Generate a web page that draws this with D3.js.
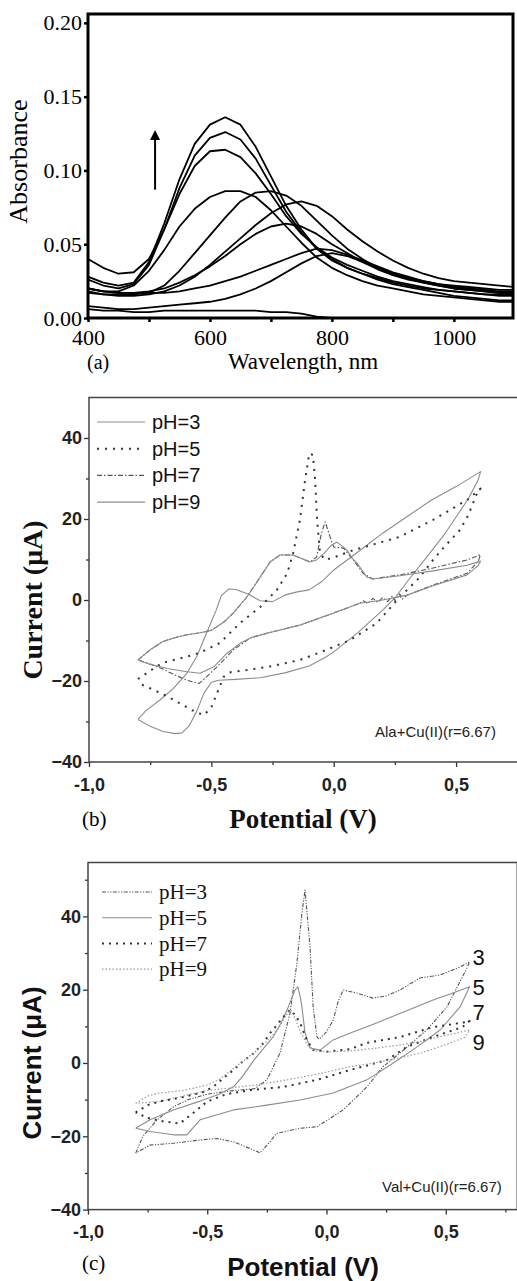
<!DOCTYPE html>
<meta charset="utf-8">
<script src="https://d3js.org/d3.v7.min.js"></script>
<style>
  body { margin: 0; background: #fff; }
  .serif { font-family: "Liberation Serif", "Times New Roman", serif; }
  .sans { font-family: "Liberation Sans", Arial, sans-serif; }
</style>
<div id="chart"></div>

<script>
// ---------- (a) absorbance spectra ----------
const wavelengths = [400,425,450,475,500,525,550,575,600,625,650,675,700,725,750,775,800,825,850,875,900,925,950,975,1000,1025,1050,1075,1100];
const spec1  = [0.028,0.024,0.022,0.024,0.038,0.064,0.094,0.118,0.131,0.136,0.131,0.116,0.096,0.076,0.060,0.047,0.039,0.034,0.030,0.026,0.023,0.021,0.019,0.017,0.015,0.014,0.013,0.012,0.012];
const spec2  = [0.026,0.022,0.020,0.023,0.036,0.060,0.088,0.110,0.122,0.126,0.121,0.108,0.090,0.072,0.058,0.047,0.040,0.034,0.030,0.027,0.024,0.022,0.020,0.019,0.018,0.017,0.016,0.016,0.016];
const spec3  = [0.040,0.034,0.030,0.031,0.040,0.060,0.084,0.103,0.113,0.114,0.109,0.098,0.084,0.069,0.057,0.048,0.041,0.036,0.032,0.028,0.025,0.023,0.021,0.019,0.018,0.017,0.016,0.015,0.015];
const spec4  = [0.020,0.018,0.018,0.022,0.032,0.046,0.062,0.074,0.082,0.086,0.086,0.082,0.073,0.062,0.051,0.041,0.034,0.029,0.025,0.022,0.020,0.018,0.016,0.015,0.014,0.013,0.012,0.011,0.011];
const spec5  = [0.018,0.016,0.016,0.016,0.017,0.022,0.032,0.044,0.056,0.068,0.079,0.085,0.086,0.083,0.076,0.066,0.056,0.047,0.040,0.034,0.030,0.027,0.025,0.023,0.022,0.021,0.020,0.019,0.019];
const spec6  = [0.017,0.016,0.015,0.015,0.016,0.018,0.022,0.028,0.036,0.045,0.054,0.063,0.071,0.077,0.079,0.076,0.069,0.060,0.052,0.045,0.039,0.034,0.030,0.027,0.025,0.024,0.023,0.022,0.021];
const spec7  = [0.020,0.018,0.017,0.017,0.018,0.020,0.024,0.029,0.035,0.042,0.050,0.057,0.062,0.064,0.062,0.057,0.050,0.044,0.038,0.033,0.029,0.026,0.024,0.022,0.020,0.019,0.018,0.017,0.017];
const spec8  = [0.020,0.018,0.017,0.017,0.017,0.017,0.018,0.020,0.022,0.025,0.028,0.032,0.036,0.040,0.044,0.047,0.046,0.043,0.039,0.035,0.031,0.028,0.025,0.023,0.021,0.020,0.019,0.018,0.018];
const spec9  = [0.008,0.007,0.006,0.006,0.007,0.008,0.009,0.010,0.011,0.013,0.016,0.020,0.025,0.031,0.037,0.042,0.044,0.042,0.038,0.034,0.030,0.027,0.024,0.022,0.020,0.019,0.018,0.017,0.017];
const spec10 = [0.006,0.005,0.005,0.004,0.004,0.005,0.005,0.005,0.005,0.005,0.005,0.005,0.004,0.004,0.003,0.001,0,0,0,0,0,0,0,0,0,0,0,0,0];
const spectra = [spec1, spec2, spec3, spec4, spec5, spec6, spec7, spec8, spec9, spec10];
const absTicks = [0, 0.05, 0.10, 0.15, 0.20];
const wlTicks = [400, 500, 600, 700, 800, 900, 1000];
const wlLabels = [400, 600, 800, 1000];

// ---------- (b) Ala + Cu(II) voltammograms, [potential V, current uA] ----------
const alaPH3 = [[-0.80,-29.5],[-0.75,-31.2],[-0.70,-32.4],[-0.65,-33.0],[-0.62,-32.8],[-0.59,-31.0],[-0.56,-27.5],[-0.53,-23.0],[-0.50,-20.3],[-0.47,-19.8],[-0.40,-19.6],[-0.30,-19.2],[-0.20,-18.0],[-0.10,-16.3],[-0.03,-14.0],[0.00,-12.8],[0.10,-8.0],[0.20,-2.5],[0.25,0.5],[0.30,4.5],[0.38,10.6],[0.45,16.0],[0.50,20.5],[0.55,25.0],[0.59,29.6],[0.60,31.7],[0.50,28.0],[0.40,24.7],[0.30,20.6],[0.20,16.5],[0.10,11.9],[0.00,7.4],[-0.05,4.5],[-0.10,2.5],[-0.15,2.0],[-0.20,1.2],[-0.25,-0.4],[-0.30,-0.2],[-0.35,1.5],[-0.40,2.6],[-0.43,2.7],[-0.46,1.0],[-0.48,-2.5],[-0.52,-8.2],[-0.56,-14.0],[-0.60,-18.1],[-0.655,-21.8],[-0.71,-24.7],[-0.765,-27.2],[-0.80,-29.5]];
const alaPH5 = [[-0.80,-19.5],[-0.75,-17.5],[-0.70,-15.5],[-0.60,-14.0],[-0.546,-13.0],[-0.465,-10.6],[-0.383,-5.7],[-0.30,-1.7],[-0.232,2.5],[-0.19,6.6],[-0.166,11.5],[-0.138,19.8],[-0.117,29.6],[-0.10,36.2],[-0.085,35.8],[-0.076,29.6],[-0.068,19.8],[-0.056,11.5],[-0.035,9.9],[0.00,10.5],[0.08,12.3],[0.15,13.5],[0.27,15.6],[0.406,19.8],[0.545,24.7],[0.60,27.5],[0.586,26.4],[0.55,21.0],[0.516,17.3],[0.45,13.0],[0.406,9.9],[0.35,5.5],[0.27,0.7],[0.176,-5.7],[0.067,-9.9],[-0.05,-12.8],[-0.138,-14.8],[-0.25,-16.3],[-0.354,-17.3],[-0.42,-17.8],[-0.45,-19.0],[-0.47,-22.0],[-0.50,-26.5],[-0.53,-28.4],[-0.56,-27.8],[-0.60,-26.5],[-0.65,-24.8],[-0.70,-23.2],[-0.75,-21.8],[-0.80,-20.5]];
const alaPH7 = [[-0.80,-14.8],[-0.75,-12.3],[-0.70,-10.3],[-0.65,-9.3],[-0.60,-8.6],[-0.546,-8.1],[-0.50,-7.5],[-0.45,-5.5],[-0.41,-3.2],[-0.354,0.8],[-0.30,5.7],[-0.26,9.4],[-0.22,11.1],[-0.166,11.1],[-0.097,9.4],[-0.07,10.6],[-0.05,16.5],[-0.035,19.3],[-0.015,15.6],[0.00,13.1],[0.04,12.8],[0.08,9.9],[0.12,6.6],[0.16,5.2],[0.27,6.2],[0.406,7.9],[0.545,9.9],[0.60,11.2],[0.59,9.5],[0.545,6.6],[0.406,3.7],[0.30,1.2],[0.28,0.2],[0.27,1.5],[0.25,-0.2],[0.24,1.0],[0.22,-0.4],[0.20,0.6],[0.18,-0.6],[0.16,0.4],[0.14,-0.9],[0.12,-0.2],[0.107,-0.8],[0.00,-3.2],[-0.138,-6.2],[-0.273,-8.2],[-0.342,-9.4],[-0.41,-12.3],[-0.477,-16.5],[-0.534,-19.8],[-0.55,-20.6],[-0.60,-19.8],[-0.65,-18.5],[-0.70,-17.0],[-0.75,-15.8],[-0.80,-14.8]];
const alaPH9 = [[-0.80,-14.8],[-0.75,-12.3],[-0.70,-10.3],[-0.65,-9.3],[-0.60,-8.6],[-0.546,-8.1],[-0.50,-7.5],[-0.45,-5.5],[-0.41,-3.2],[-0.354,0.8],[-0.30,5.7],[-0.26,9.4],[-0.22,11.1],[-0.166,11.1],[-0.097,9.4],[-0.07,9.9],[-0.04,11.5],[-0.01,13.5],[0.013,14.3],[0.035,13.3],[0.054,12.3],[0.08,10.0],[0.095,9.1],[0.135,5.7],[0.16,5.2],[0.27,6.0],[0.406,7.2],[0.545,8.6],[0.60,9.6],[0.59,8.5],[0.545,6.2],[0.406,3.5],[0.30,1.2],[0.20,0.0],[0.107,-0.8],[0.00,-3.2],[-0.138,-6.2],[-0.273,-8.2],[-0.33,-9.1],[-0.383,-10.7],[-0.437,-13.2],[-0.49,-16.5],[-0.546,-18.1],[-0.60,-17.7],[-0.68,-16.9],[-0.75,-15.9],[-0.80,-14.8]];

// ---------- (c) Val + Cu(II) voltammograms ----------
const valPH3 = [[-0.80,-24.6],[-0.77,-20.0],[-0.71,-15.5],[-0.64,-11.9],[-0.58,-10.0],[-0.50,-8.5],[-0.40,-7.6],[-0.30,-7.0],[-0.25,-4.6],[-0.195,2.7],[-0.153,13.6],[-0.124,27.3],[-0.103,40.9],[-0.09,47.2],[-0.069,31.7],[-0.056,15.3],[-0.04,7.1],[-0.03,6.5],[0.00,8.5],[0.028,11.7],[0.05,17.0],[0.07,19.9],[0.127,19.1],[0.195,17.7],[0.25,18.3],[0.308,19.9],[0.392,23.2],[0.476,24.0],[0.56,26.2],[0.60,27.6],[0.589,25.9],[0.505,15.3],[0.42,9.0],[0.308,2.7],[0.237,-1.0],[0.17,-6.5],[0.07,-12.8],[-0.04,-17.4],[-0.111,-17.8],[-0.209,-19.2],[-0.25,-22.5],[-0.279,-24.5],[-0.307,-23.7],[-0.39,-21.5],[-0.46,-20.6],[-0.53,-21.0],[-0.642,-21.9],[-0.74,-22.4],[-0.80,-24.6]];
const valPH5 = [[-0.80,-17.8],[-0.74,-15.5],[-0.642,-12.8],[-0.53,-10.4],[-0.45,-8.5],[-0.39,-6.5],[-0.35,-3.5],[-0.31,0.3],[-0.27,3.5],[-0.224,7.1],[-0.19,11.0],[-0.16,15.3],[-0.132,19.9],[-0.12,20.8],[-0.11,18.0],[-0.103,15.3],[-0.09,8.2],[-0.069,4.1],[-0.027,3.5],[0.028,6.3],[0.10,8.2],[0.21,10.9],[0.31,13.6],[0.447,17.2],[0.53,19.1],[0.60,20.8],[0.56,15.3],[0.476,9.0],[0.38,4.4],[0.28,0.0],[0.17,-4.6],[0.028,-8.2],[-0.111,-10.1],[-0.25,-11.5],[-0.39,-12.8],[-0.53,-15.5],[-0.586,-19.6],[-0.642,-19.6],[-0.74,-18.7],[-0.80,-17.8]];
const valPH7 = [[-0.80,-13.5],[-0.75,-11.5],[-0.70,-10.5],[-0.60,-9.3],[-0.52,-8.0],[-0.475,-6.5],[-0.43,-4.0],[-0.39,-1.9],[-0.35,0.5],[-0.307,2.6],[-0.27,5.0],[-0.237,8.1],[-0.20,11.0],[-0.18,12.6],[-0.153,14.5],[-0.13,13.0],[-0.11,10.8],[-0.083,6.3],[-0.055,3.5],[0.00,3.1],[0.10,3.8],[0.17,5.5],[0.31,7.1],[0.447,9.8],[0.59,11.2],[0.60,11.5],[0.57,9.8],[0.447,7.1],[0.337,4.4],[0.253,0.8],[0.10,-1.9],[-0.04,-4.6],[-0.18,-6.5],[-0.32,-7.4],[-0.42,-8.5],[-0.50,-10.5],[-0.56,-13.7],[-0.615,-16.5],[-0.68,-16.0],[-0.75,-15.0],[-0.80,-13.5]];
const valPH9 = [[-0.80,-11.0],[-0.75,-9.0],[-0.70,-8.2],[-0.60,-7.5],[-0.50,-6.0],[-0.45,-4.5],[-0.40,-2.0],[-0.35,0.5],[-0.30,3.0],[-0.25,6.0],[-0.20,9.5],[-0.17,13.0],[-0.15,14.5],[-0.13,12.0],[-0.11,8.5],[-0.08,5.0],[-0.05,3.3],[0.00,3.0],[0.10,3.3],[0.20,4.0],[0.30,4.8],[0.40,6.0],[0.50,7.5],[0.60,9.0],[0.58,7.0],[0.50,5.0],[0.40,2.8],[0.30,1.3],[0.20,0.0],[0.10,-1.0],[0.00,-2.5],[-0.10,-3.8],[-0.20,-5.0],[-0.30,-6.0],[-0.40,-6.8],[-0.50,-7.5],[-0.60,-9.0],[-0.70,-10.5],[-0.80,-11.0]];

const phLabels = ["pH=3", "pH=5", "pH=7", "pH=9"];
const potTicks = [-1.0, -0.5, 0.0, 0.5];
const potMinor = [-0.75, -0.25, 0.25, 0.75];
const curTicks = [-40, -20, 0, 20, 40];
const curMinorB = [-30, -10, 10, 30];
const curMinorC = [-30, -10, 10, 30, 50];
const endLabels = ["3", "5", "7", "9"];
const endLabelValues = [28.9, 20.7, 13.9, 5.7];

const svg = d3.select("#chart")
  .append("svg")
  .attr("width", 517)
  .attr("height", 1281);

// ================= panel (a) =================
const xA = d3.scaleLinear().domain([400, 1097]).range([88, 513]);
const yA = d3.scaleLinear().domain([0, 0.206]).range([318, 14]);
const gA = svg.append("g");

gA.append("clipPath").attr("id", "clipA")
  .append("rect")
  .attr("x", xA.range()[0]).attr("y", yA.range()[1])
  .attr("width", xA.range()[1] - xA.range()[0])
  .attr("height", yA.range()[0] - yA.range()[1]);

const lineA = d3.line()
  .x((d, i) => xA(wavelengths[i]))
  .y(d => yA(d));

gA.append("g").attr("clip-path", "url(#clipA)")
  .selectAll("path")
  .data(spectra)
  .join("path")
  .attr("d", lineA)
  .attr("fill", "none")
  .attr("stroke", "#000")
  .attr("stroke-width", 1.8)
  .attr("stroke-linejoin", "round");

// arrow
svg.append("defs").append("marker")
  .attr("id", "arrowHead")
  .attr("viewBox", "0 0 10 10")
  .attr("refX", 5).attr("refY", 5)
  .attr("markerWidth", 5).attr("markerHeight", 6)
  .attr("orient", "auto")
  .append("path").attr("d", "M0,0 L10,5 L0,10 z").attr("fill", "#000");

gA.append("line")
  .attr("x1", xA(510)).attr("x2", xA(510))
  .attr("y1", yA(0.087)).attr("y2", yA(0.124))
  .attr("stroke", "#000").attr("stroke-width", 2)
  .attr("marker-end", "url(#arrowHead)");

const axA_x = gA.append("g")
  .attr("transform", `translate(0,${yA(0)})`)
  .call(d3.axisBottom(xA).tickValues(wlTicks).tickSize(4).tickPadding(7)
    .tickFormat(d => wlLabels.includes(d) ? d : ""));
const axA_y = gA.append("g")
  .attr("transform", `translate(${xA(400)},0)`)
  .call(d3.axisLeft(yA).tickValues(absTicks).tickSize(4).tickPadding(2)
    .tickFormat(d3.format(".2f")));
[axA_x, axA_y].forEach(ax => {
  ax.select(".domain").remove();
  ax.selectAll(".tick line").attr("stroke", "#000").attr("stroke-width", 2.5);
  ax.selectAll("text").attr("class", "serif").style("font-size", "22px").attr("fill", "#000");
});

gA.append("rect")
  .attr("x", xA.range()[0]).attr("y", yA.range()[1])
  .attr("width", xA.range()[1] - xA.range()[0])
  .attr("height", yA.range()[0] - yA.range()[1])
  .attr("fill", "none").attr("stroke", "#000").attr("stroke-width", 3);

gA.append("text").attr("class", "serif")
  .attr("transform", `translate(27,${yA(0.106)}) rotate(-90)`)
  .attr("text-anchor", "middle").style("font-size", "26px")
  .text("Absorbance");
gA.append("text").attr("class", "serif")
  .attr("x", 303).attr("y", 369).attr("text-anchor", "middle")
  .style("font-size", "23px").text("Wavelength, nm");
gA.append("text").attr("class", "serif")
  .attr("x", 87).attr("y", 369).style("font-size", "20px").text("(a)");

// ================= voltammogram panels =================
function drawCV(opts) {
  const { x, y, series, styles, minorY, legend, legendFont, legendTop, legendStep,
          legendX1, legendX2, note, noteX, noteY, tag, tagX, tagY,
          xTitle, yTitle, titleFont, xTitleY, yTitleX, yTitleSize, xTitleSize } = opts;
  const g = svg.append("g");
  const x0 = x.range()[0], x1 = x.range()[1], yb = y.range()[0], yt = y.range()[1];

  const line = d3.line().x(d => x(d[0])).y(d => y(d[1]));
  g.selectAll("path.cv")
    .data(series)
    .join("path")
    .attr("class", "cv")
    .attr("d", line)
    .attr("fill", "none")
    .attr("stroke", (d, i) => styles[i].color)
    .attr("stroke-width", (d, i) => styles[i].width)
    .attr("stroke-dasharray", (d, i) => styles[i].dash)
    .attr("stroke-linejoin", "round");

  const fmt = d => (d < 0 ? "-" : "") + Math.abs(d).toFixed(1).replace(".", ",");
  const axes = [];
  axes.push(g.append("g").attr("transform", `translate(0,${yb})`)
    .call(d3.axisBottom(x).tickValues(potTicks).tickSize(5).tickPadding(11).tickFormat(fmt)));
  axes.push(g.append("g").attr("transform", `translate(0,${yb})`)
    .call(d3.axisBottom(x).tickValues(potMinor).tickSize(3).tickFormat("")));
  axes.push(g.append("g").attr("transform", `translate(${x0},0)`)
    .call(d3.axisLeft(y).tickValues(curTicks).tickSize(5).tickPadding(2)));
  axes.push(g.append("g").attr("transform", `translate(${x0},0)`)
    .call(d3.axisLeft(y).tickValues(minorY).tickSize(3).tickFormat("")));
  axes.forEach(ax => {
    ax.select(".domain").remove();
    ax.selectAll(".tick line").attr("stroke", "#333").attr("stroke-width", 1.3);
    ax.selectAll("text").attr("class", "sans").style("font-size", "18px")
      .style("font-weight", "bold").attr("fill", "#222");
  });

  g.append("rect")
    .attr("x", x0).attr("y", yt).attr("width", x1 - x0).attr("height", yb - yt)
    .attr("fill", "none").attr("stroke", "#444").attr("stroke-width", 1.5);

  // legend
  const lg = g.append("g");
  legend.forEach((lab, i) => {
    const ly = legendTop + i * legendStep;
    lg.append("line")
      .attr("x1", legendX1).attr("x2", legendX2).attr("y1", ly).attr("y2", ly)
      .attr("stroke", styles[i].color).attr("stroke-width", styles[i].width)
      .attr("stroke-dasharray", styles[i].dash);
    lg.append("text").attr("class", legendFont.cls)
      .attr("x", legendX2 + 7).attr("y", ly).attr("dy", "0.35em")
      .style("font-size", legendFont.size).attr("fill", "#111")
      .text(lab);
  });

  g.append("text").attr("class", "sans")
    .attr("x", noteX).attr("y", noteY).style("font-size", "15px").attr("fill", "#222")
    .text(note);

  g.append("text").attr("class", "serif")
    .attr("x", tagX).attr("y", tagY).style("font-size", "21px").text(tag);

  g.append("text").attr("class", titleFont)
    .attr("x", 303).attr("y", xTitleY).attr("text-anchor", "middle")
    .style("font-size", xTitleSize).style("font-weight", "bold").attr("fill", "#111")
    .text(xTitle);
  g.append("text").attr("class", titleFont)
    .attr("transform", `translate(${yTitleX},${y(0)}) rotate(-90)`)
    .attr("text-anchor", "middle")
    .style("font-size", yTitleSize).style("font-weight", "bold").attr("fill", "#111")
    .text(yTitle);
  return g;
}

// ---- (b) ----
const xB = d3.scaleLinear().domain([-1, 0.8]).range([89, 529.5]);
const yB = d3.scaleLinear().domain([-40, 50]).range([762, 397.5]);
drawCV({
  x: xB, y: yB,
  series: [alaPH3, alaPH5, alaPH7, alaPH9],
  styles: [
    { color: "#8c8c8c", width: 1.1, dash: null },
    { color: "#333", width: 2, dash: "2,6" },
    { color: "#555", width: 1.1, dash: "5,2,1.5,2" },
    { color: "#8c8c8c", width: 1.1, dash: null }
  ],
  minorY: curMinorB,
  legend: phLabels, legendFont: { cls: "sans", size: "20px" },
  legendTop: 422, legendStep: 26.7, legendX1: 97, legendX2: 145,
  note: "Ala+Cu(II)(r=6.67)", noteX: 375, noteY: 737,
  tag: "(b)", tagX: 82, tagY: 826,
  xTitle: "Potential (V)", yTitle: "Current (\u03bcA)", titleFont: "serif",
  xTitleY: 828, yTitleX: 42, xTitleSize: "27px", yTitleSize: "28px"
});

// ---- (c) ----
const xC = d3.scaleLinear().domain([-1, 0.8]).range([88, 517.3]);
const yC = d3.scaleLinear().domain([-40, 54.7]).range([1209.6, 862.5]);
const gC = drawCV({
  x: xC, y: yC,
  series: [valPH3, valPH5, valPH7, valPH9],
  styles: [
    { color: "#555", width: 1.1, dash: "4,1.5,1.2,1.5,1.2,1.5" },
    { color: "#8c8c8c", width: 1.1, dash: null },
    { color: "#333", width: 2, dash: "2,5" },
    { color: "#999", width: 1.2, dash: "1.5,2" }
  ],
  minorY: curMinorC,
  legend: phLabels, legendFont: { cls: "serif", size: "21px" },
  legendTop: 892, legendStep: 25.7, legendX1: 102, legendX2: 152,
  note: "Val+Cu(II)(r=6.67)", noteX: 382, noteY: 1192,
  tag: "(c)", tagX: 82, tagY: 1270,
  xTitle: "Potential (V)", yTitle: "Current (\u03bcA)", titleFont: "sans",
  xTitleY: 1276, yTitleX: 41, xTitleSize: "26px", yTitleSize: "26px"
});

gC.selectAll("text.endlab")
  .data(endLabels)
  .join("text")
  .attr("class", "endlab sans")
  .attr("x", xC(0.6) + 3)
  .attr("y", (d, i) => yC(endLabelValues[i]))
  .attr("dy", "0.36em")
  .style("font-size", "22px")
  .attr("fill", "#111")
  .text(d => d);
</script>
